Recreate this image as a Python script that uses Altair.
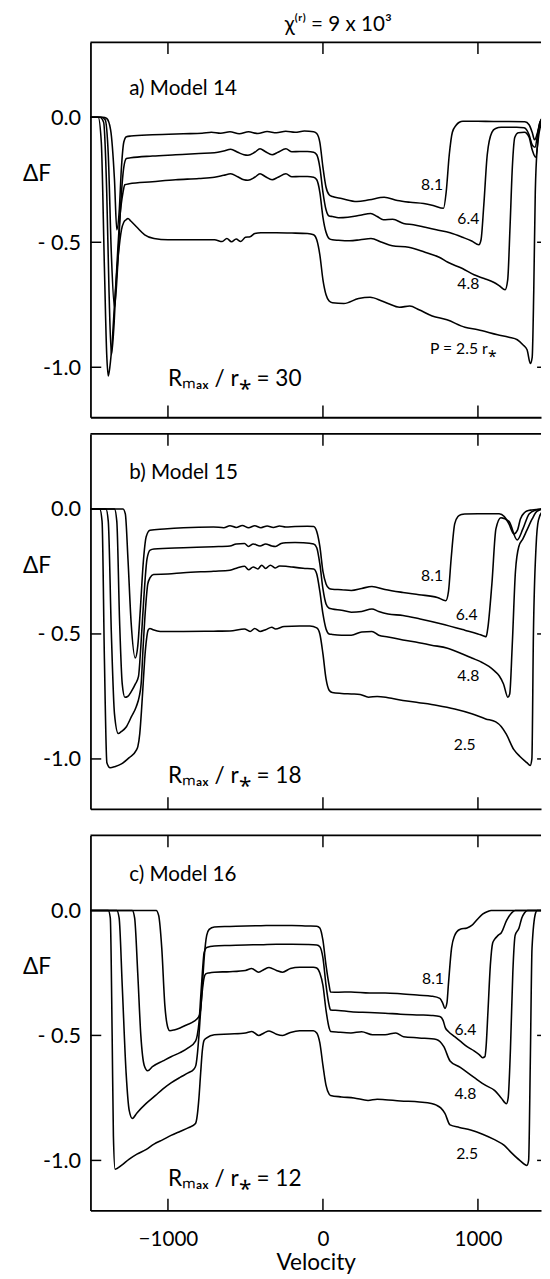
import altair as alt
import pandas as pd

# ---------------- data ----------------
X_DOMAIN = [-1500, 1407]
Y_DOMAIN = [-1.2, 0.3]
X_TICKS = [-1000, 0, 1000]
X_TICK_LABELS = ["−1000", "0", "1000"]
Y_TICKS = [0.0, -0.5, -1.0]
Y_TICK_LABELS = ["0.0", "- 0.5", "-1.0"]
INNER_Y_TICKS = [-0.5, -1.0]
P_VALUES = ["8.1", "6.4", "4.8", "2.5"]

# Panel a) Model 14  (velocity, ΔF)
A81 = [(-1500,0),(-1420,0),(-1395,-0.005),(-1370,-0.05),(-1345,-0.25),(-1330,-0.45),(-1315,-0.38),(-1300,-0.2),(-1285,-0.1),(-1268,-0.078),(-1240,-0.075),(-1100,-0.07),(-900,-0.066),(-780,-0.064),(-720,-0.06),(-660,-0.064),(-600,-0.058),(-540,-0.066),(-480,-0.058),(-420,-0.065),(-360,-0.057),(-300,-0.062),(-240,-0.056),(-180,-0.06),(-120,-0.055),(-60,-0.058),(-40,-0.065),(-20,-0.1),(0,-0.2),(20,-0.28),(40,-0.31),(61,-0.317),(120,-0.325),(219,-0.337),(300,-0.33),(395,-0.32),(480,-0.333),(563,-0.34),(650,-0.345),(711,-0.353),(778,-0.364),(795,-0.3),(815,-0.15),(835,-0.06),(859,-0.032),(880,-0.02),(903,-0.016),(1000,-0.016),(1100,-0.017),(1200,-0.017),(1303,-0.018),(1330,-0.03),(1350,-0.06),(1365,-0.09),(1385,-0.06),(1400,-0.02),(1420,0)]
A64 = [(-1500,0),(-1430,0),(-1405,-0.01),(-1385,-0.15),(-1365,-0.55),(-1345,-0.76),(-1325,-0.6),(-1305,-0.35),(-1285,-0.2),(-1268,-0.165),(-1240,-0.162),(-1100,-0.155),(-950,-0.15),(-800,-0.145),(-700,-0.142),(-640,-0.135),(-595,-0.128),(-550,-0.14),(-510,-0.15),(-484,-0.152),(-440,-0.14),(-406,-0.126),(-370,-0.138),(-328,-0.15),(-290,-0.14),(-239,-0.126),(-200,-0.138),(-150,-0.137),(-100,-0.137),(-60,-0.14),(-40,-0.15),(-20,-0.2),(0,-0.3),(20,-0.37),(40,-0.395),(61,-0.397),(100,-0.402),(161,-0.40),(240,-0.392),(308,-0.385),(350,-0.397),(390,-0.41),(450,-0.408),(520,-0.425),(584,-0.43),(660,-0.44),(732,-0.45),(820,-0.462),(901,-0.48),(960,-0.495),(1006,-0.51),(1020,-0.49),(1038,-0.35),(1060,-0.15),(1090,-0.06),(1114,-0.045),(1150,-0.04),(1250,-0.04),(1297,-0.042),(1330,-0.07),(1350,-0.11),(1368,-0.12),(1390,-0.05),(1410,-0.01),(1420,0)]
A48 = [(-1500,0),(-1440,0),(-1415,-0.02),(-1395,-0.3),(-1380,-0.7),(-1365,-0.95),(-1350,-0.85),(-1330,-0.6),(-1310,-0.4),(-1290,-0.3),(-1278,-0.27),(-1250,-0.266),(-1100,-0.258),(-950,-0.25),(-800,-0.245),(-700,-0.24),(-640,-0.232),(-595,-0.226),(-550,-0.238),(-510,-0.25),(-484,-0.252),(-440,-0.24),(-406,-0.226),(-370,-0.238),(-328,-0.25),(-290,-0.24),(-239,-0.226),(-200,-0.238),(-150,-0.237),(-100,-0.237),(-60,-0.24),(-40,-0.25),(-20,-0.3),(0,-0.4),(20,-0.46),(40,-0.485),(61,-0.49),(100,-0.492),(173,-0.494),(240,-0.49),(310,-0.485),(380,-0.5),(447,-0.514),(553,-0.52),(658,-0.54),(750,-0.56),(806,-0.58),(900,-0.605),(975,-0.63),(1040,-0.645),(1101,-0.66),(1140,-0.675),(1175,-0.69),(1192,-0.65),(1207,-0.44),(1222,-0.2),(1238,-0.08),(1260,-0.062),(1300,-0.06),(1330,-0.08),(1350,-0.13),(1372,-0.16),(1395,-0.06),(1420,0)]
A25 = [(-1500,0),(-1450,0),(-1430,-0.1),(-1410,-0.6),(-1395,-0.95),(-1385,-1.035),(-1375,-1.0),(-1360,-0.9),(-1340,-0.7),(-1320,-0.55),(-1300,-0.45),(-1285,-0.42),(-1270,-0.41),(-1258,-0.405),(-1240,-0.415),(-1200,-0.44),(-1150,-0.47),(-1090,-0.485),(-1000,-0.49),(-800,-0.49),(-700,-0.49),(-650,-0.497),(-620,-0.485),(-590,-0.498),(-560,-0.487),(-530,-0.497),(-500,-0.48),(-470,-0.478),(-440,-0.465),(-400,-0.462),(-300,-0.462),(-200,-0.463),(-100,-0.465),(-60,-0.47),(-40,-0.49),(-20,-0.55),(0,-0.65),(20,-0.71),(40,-0.735),(61,-0.742),(135,-0.745),(230,-0.725),(304,-0.72),(380,-0.735),(420,-0.745),(494,-0.76),(560,-0.755),(620,-0.77),(705,-0.795),(800,-0.81),(916,-0.84),(1000,-0.85),(1127,-0.87),(1200,-0.88),(1254,-0.89),(1290,-0.91),(1317,-0.93),(1338,-0.985),(1350,-0.96),(1360,-0.7),(1370,-0.3),(1385,-0.1),(1400,-0.02),(1420,0)]

# Panel b) Model 15
B81 = [(-1500,0),(-1290,0),(-1275,-0.02),(-1258,-0.2),(-1238,-0.45),(-1211,-0.596),(-1195,-0.55),(-1178,-0.4),(-1160,-0.22),(-1140,-0.11),(-1116,-0.085),(-1025,-0.08),(-900,-0.075),(-706,-0.072),(-640,-0.075),(-600,-0.067),(-560,-0.074),(-520,-0.066),(-480,-0.075),(-440,-0.067),(-400,-0.075),(-360,-0.068),(-320,-0.074),(-280,-0.068),(-240,-0.072),(-180,-0.07),(-100,-0.069),(-60,-0.07),(-40,-0.09),(-20,-0.15),(0,-0.25),(20,-0.3),(40,-0.318),(60,-0.321),(120,-0.323),(183,-0.326),(250,-0.318),(316,-0.31),(400,-0.322),(516,-0.334),(620,-0.343),(738,-0.354),(793,-0.367),(810,-0.33),(827,-0.2),(850,-0.06),(871,-0.03),(894,-0.022),(915,-0.02),(1000,-0.019),(1137,-0.019),(1170,-0.03),(1200,-0.06),(1232,-0.1),(1255,-0.085),(1274,-0.04),(1300,-0.015),(1316,-0.008),(1348,-0.004),(1420,0)]
B64 = [(-1500,0),(-1345,0),(-1330,-0.05),(-1312,-0.45),(-1295,-0.7),(-1278,-0.753),(-1260,-0.75),(-1236,-0.73),(-1210,-0.70),(-1190,-0.67),(-1175,-0.55),(-1155,-0.35),(-1135,-0.2),(-1115,-0.165),(-1090,-0.16),(-900,-0.155),(-706,-0.151),(-600,-0.148),(-560,-0.14),(-506,-0.138),(-480,-0.15),(-450,-0.14),(-406,-0.148),(-370,-0.14),(-330,-0.148),(-306,-0.15),(-270,-0.138),(-239,-0.135),(-180,-0.134),(-128,-0.135),(-60,-0.14),(-40,-0.155),(-20,-0.22),(0,-0.32),(20,-0.38),(40,-0.397),(60,-0.4),(120,-0.405),(183,-0.413),(250,-0.41),(316,-0.40),(360,-0.41),(420,-0.42),(516,-0.426),(627,-0.44),(760,-0.459),(915,-0.485),(1000,-0.5),(1037,-0.508),(1053,-0.511),(1063,-0.48),(1090,-0.3),(1116,-0.08),(1148,-0.035),(1200,-0.05),(1253,-0.124),(1290,-0.08),(1330,-0.02),(1369,-0.005),(1420,0)]
B48 = [(-1500,0),(-1400,0),(-1385,-0.05),(-1365,-0.5),(-1345,-0.82),(-1321,-0.898),(-1300,-0.89),(-1268,-0.871),(-1235,-0.83),(-1204,-0.79),(-1185,-0.75),(-1173,-0.70),(-1160,-0.55),(-1145,-0.4),(-1130,-0.3),(-1115,-0.275),(-1093,-0.262),(-1000,-0.26),(-900,-0.255),(-706,-0.249),(-600,-0.245),(-550,-0.235),(-506,-0.229),(-480,-0.243),(-450,-0.232),(-420,-0.24),(-395,-0.225),(-370,-0.238),(-339,-0.225),(-306,-0.236),(-280,-0.228),(-239,-0.229),(-200,-0.232),(-128,-0.237),(-60,-0.24),(-40,-0.26),(-20,-0.33),(0,-0.42),(20,-0.48),(40,-0.5),(60,-0.502),(120,-0.505),(183,-0.505),(250,-0.492),(316,-0.49),(360,-0.505),(420,-0.512),(516,-0.524),(620,-0.535),(700,-0.545),(804,-0.557),(900,-0.58),(960,-0.596),(1030,-0.615),(1071,-0.63),(1110,-0.65),(1138,-0.668),(1165,-0.7),(1193,-0.753),(1205,-0.74),(1221,-0.55),(1242,-0.25),(1264,-0.15),(1290,-0.12),(1316,-0.085),(1350,-0.04),(1380,-0.01),(1420,0)]
B25 = [(-1500,0),(-1440,0),(-1425,-0.05),(-1410,-0.6),(-1394,-1.015),(-1373,-1.035),(-1340,-1.03),(-1300,-1.02),(-1250,-0.995),(-1204,-0.965),(-1194,-0.95),(-1182,-0.9),(-1170,-0.8),(-1160,-0.7),(-1150,-0.6),(-1138,-0.52),(-1128,-0.485),(-1116,-0.478),(-1100,-0.482),(-1050,-0.49),(-900,-0.49),(-706,-0.489),(-600,-0.488),(-506,-0.48),(-470,-0.49),(-440,-0.478),(-406,-0.49),(-370,-0.483),(-330,-0.473),(-306,-0.48),(-250,-0.47),(-150,-0.468),(-84,-0.468),(-40,-0.476),(-20,-0.5),(0,-0.58),(20,-0.68),(40,-0.725),(60,-0.734),(120,-0.738),(183,-0.74),(240,-0.742),(294,-0.753),(350,-0.75),(420,-0.755),(516,-0.766),(620,-0.775),(738,-0.786),(850,-0.80),(960,-0.819),(1050,-0.84),(1115,-0.852),(1150,-0.87),(1182,-0.9),(1232,-0.963),(1271,-0.99),(1316,-1.015),(1337,-1.026),(1348,-1.0),(1358,-0.5),(1375,-0.15),(1390,-0.046),(1420,-0.005)]

# Panel c) Model 16
C81 = [(-1500,0),(-1076,0),(-1060,-0.02),(-1040,-0.15),(-1020,-0.38),(-1000,-0.47),(-988,-0.481),(-960,-0.478),(-922,-0.47),(-880,-0.458),(-833,-0.444),(-800,-0.424),(-790,-0.4),(-778,-0.3),(-765,-0.18),(-750,-0.1),(-734,-0.076),(-701,-0.066),(-600,-0.064),(-500,-0.062),(-400,-0.061),(-300,-0.06),(-200,-0.06),(-100,-0.062),(-40,-0.063),(-20,-0.07),(0,-0.12),(20,-0.22),(40,-0.3),(49,-0.326),(100,-0.327),(181,-0.326),(300,-0.33),(401,-0.33),(500,-0.333),(622,-0.339),(700,-0.343),(754,-0.352),(772,-0.37),(787,-0.392),(800,-0.37),(809,-0.3),(830,-0.15),(850,-0.1),(864,-0.085),(886,-0.075),(930,-0.07),(960,-0.06),(997,-0.035),(1030,-0.015),(1063,-0.004),(1085,0),(1420,0)]
C64 = [(-1500,0),(-1230,0),(-1215,-0.03),(-1195,-0.25),(-1175,-0.5),(-1153,-0.62),(-1131,-0.641),(-1100,-0.625),(-1032,-0.602),(-980,-0.585),(-922,-0.569),(-870,-0.55),(-822,-0.523),(-811,-0.5),(-800,-0.45),(-789,-0.35),(-778,-0.25),(-767,-0.17),(-750,-0.148),(-701,-0.142),(-600,-0.14),(-500,-0.138),(-400,-0.137),(-300,-0.135),(-200,-0.135),(-100,-0.136),(-40,-0.138),(-20,-0.145),(0,-0.19),(20,-0.3),(40,-0.38),(49,-0.398),(100,-0.4),(181,-0.405),(300,-0.408),(401,-0.411),(500,-0.415),(622,-0.418),(700,-0.42),(754,-0.424),(775,-0.44),(790,-0.47),(809,-0.484),(850,-0.505),(886,-0.523),(930,-0.545),(975,-0.562),(1010,-0.578),(1030,-0.589),(1045,-0.585),(1052,-0.55),(1065,-0.4),(1080,-0.22),(1095,-0.13),(1107,-0.116),(1130,-0.1),(1151,-0.089),(1185,-0.04),(1217,-0.01),(1240,0),(1420,0)]
C48 = [(-1500,0),(-1330,0),(-1315,-0.03),(-1295,-0.3),(-1270,-0.65),(-1250,-0.8),(-1230,-0.832),(-1200,-0.81),(-1142,-0.773),(-1080,-0.74),(-1032,-0.714),(-980,-0.69),(-922,-0.668),(-870,-0.65),(-833,-0.635),(-820,-0.62),(-811,-0.58),(-800,-0.5),(-789,-0.4),(-778,-0.32),(-767,-0.27),(-756,-0.254),(-735,-0.25),(-701,-0.247),(-600,-0.245),(-500,-0.24),(-460,-0.232),(-415,-0.247),(-380,-0.236),(-348,-0.228),(-300,-0.24),(-260,-0.247),(-210,-0.232),(-150,-0.227),(-62,-0.227),(-40,-0.23),(-20,-0.25),(0,-0.3),(20,-0.4),(40,-0.47),(49,-0.484),(100,-0.487),(181,-0.49),(250,-0.485),(320,-0.497),(401,-0.497),(470,-0.49),(520,-0.505),(620,-0.51),(732,-0.516),(780,-0.545),(820,-0.602),(886,-0.628),(975,-0.668),(1050,-0.7),(1107,-0.72),(1150,-0.75),(1184,-0.773),(1195,-0.75),(1210,-0.55),(1225,-0.25),(1240,-0.1),(1265,-0.07),(1283,-0.03),(1300,-0.01),(1320,0),(1420,0)]
C25 = [(-1500,0),(-1385,0),(-1372,-0.03),(-1360,-0.5),(-1352,-0.9),(-1341,-1.035),(-1300,-1.02),(-1252,-0.996),(-1200,-0.975),(-1142,-0.957),(-1090,-0.935),(-1032,-0.917),(-980,-0.9),(-922,-0.884),(-870,-0.87),(-822,-0.852),(-811,-0.82),(-800,-0.75),(-789,-0.65),(-778,-0.56),(-767,-0.52),(-750,-0.51),(-701,-0.497),(-600,-0.494),(-500,-0.49),(-459,-0.484),(-415,-0.5),(-380,-0.49),(-348,-0.482),(-300,-0.495),(-260,-0.5),(-210,-0.488),(-150,-0.481),(-62,-0.481),(-40,-0.49),(-20,-0.53),(0,-0.62),(20,-0.7),(40,-0.735),(49,-0.74),(120,-0.746),(200,-0.75),(291,-0.76),(350,-0.755),(401,-0.757),(500,-0.762),(622,-0.766),(700,-0.772),(732,-0.779),(760,-0.79),(787,-0.812),(820,-0.858),(880,-0.868),(953,-0.878),(1030,-0.895),(1107,-0.917),(1170,-0.94),(1217,-0.97),(1270,-1.0),(1316,-1.02),(1327,-1.0),(1338,-0.6),(1349,-0.15),(1372,-0.01),(1382,0),(1420,0)]

PANEL_TEXT = ["a)  Model 14", "b)  Model 15", "c)  Model 16"]
PANEL_TEXT_POS = [(-1250, 0.114), (-1250, 0.144), (-1250, 0.14)]
RMAX_TEXT = ["Rₘₐₓ / r⁎ = 30", "Rₘₐₓ / r⁎ = 18", "Rₘₐₓ / r⁎ = 12"]
RMAX_POS = [(-1000, -1.048), (-1000, -1.068), (-1000, -1.075)]
CURVE_TEXT = [["8.1", "6.4", "4.8", "P = 2.5 r⁎"], ["8.1", "6.4", "4.8", "2.5"], ["8.1", "6.4", "4.8", "2.5"]]
CURVE_TEXT_POS = [
    [(704, -0.27), (938, -0.408), (938, -0.669), (906, -0.928)],
    [(704, -0.269), (927, -0.426), (938, -0.668), (915, -0.943)],
    [(710, -0.273), (919, -0.477), (919, -0.733), (930, -0.976)],
]
TITLE = "χ⁽ʳ⁾ = 9 x 10³"

# ---------------- styling ----------------
FONT = "Lato"
W, H = 459, 382
INK = "black"
FRAME_W = 1.8

xs = alt.Scale(domain=X_DOMAIN, nice=False, zero=False)
ys = alt.Scale(domain=Y_DOMAIN, nice=False, zero=False)

x_label_expr = " : ".join(f"datum.value == {v} ? '{t}'" for v, t in zip(X_TICKS, X_TICK_LABELS)) + " : ''"
y_label_expr = " : ".join(f"datum.value == {v} ? '{t}'" for v, t in zip(Y_TICKS, Y_TICK_LABELS)) + " : ''"


def panel(curves, idx, bottom_labels, title=None):
    frames = []
    for p, pts in zip(P_VALUES, curves):
        d = pd.DataFrame(pts, columns=["v", "f"])
        d["p"] = p
        frames.append(d)
    df = pd.concat(frames, ignore_index=True)

    if bottom_labels:
        xaxis = alt.Axis(values=X_TICKS, labelExpr=x_label_expr, ticks=False, grid=False,
                         labelFontSize=21, labelPadding=19, labelFont=FONT, labelColor=INK,
                         title="Velocity", titleFontSize=23, titleFont=FONT, titleFontWeight="normal",
                         titleColor=INK, titlePadding=2, domainColor=INK, domainWidth=FRAME_W)
    else:
        xaxis = alt.Axis(values=X_TICKS, labels=False, ticks=False, grid=False, title=None,
                         domainColor=INK, domainWidth=FRAME_W)
    yaxis = alt.Axis(values=Y_TICKS, labelExpr=y_label_expr, ticks=False, grid=False,
                     labelFontSize=22, labelPadding=10, labelFont=FONT, labelColor=INK,
                     title="ΔF", titleAngle=0, titleFontSize=23, titleFont=FONT,
                     titleFontWeight="normal", titleColor=INK, titleX=-55, titleY=134,
                     titleAlign="center", titleBaseline="middle",
                     domainColor=INK, domainWidth=FRAME_W)

    X = lambda f="v:Q": alt.X(f, scale=xs, axis=xaxis)
    Y = lambda f="f:Q": alt.Y(f, scale=ys, axis=yaxis)

    lines = alt.Chart(df).mark_line(color=INK, strokeWidth=1.6, clip=True,
                                    interpolate="monotone").encode(
        x=X(), y=Y(), detail="p:N")

    frame_df = pd.DataFrame({"v": [X_DOMAIN[0]], "v2": [X_DOMAIN[1]], "f": [Y_DOMAIN[1]]})
    top_rule = alt.Chart(frame_df).mark_rule(color=INK, strokeWidth=FRAME_W).encode(
        x=X(), x2="v2:Q", y=Y())

    xt = pd.DataFrame({"v": X_TICKS})
    top_ticks = alt.Chart(xt).mark_rule(color=INK, strokeWidth=1.5).encode(
        x=X(), y=alt.value(0), y2=alt.value(12))
    bot_ticks = alt.Chart(xt).mark_rule(color=INK, strokeWidth=1.5).encode(
        x=X(), y=alt.value(H), y2=alt.value(H - 12))
    yt = pd.DataFrame({"f": INNER_Y_TICKS})
    left_ticks = alt.Chart(yt).mark_rule(color=INK, strokeWidth=1.5).encode(
        y=Y(), x=alt.value(0), x2=alt.value(11))
    right_ticks = alt.Chart(yt).mark_rule(color=INK, strokeWidth=1.5).encode(
        y=Y(), x=alt.value(W - 4), x2=alt.value(W))

    name_df = pd.DataFrame({"v": [PANEL_TEXT_POS[idx][0]], "f": [PANEL_TEXT_POS[idx][1]],
                            "t": [PANEL_TEXT[idx]]})
    name = alt.Chart(name_df).mark_text(align="left", baseline="middle", fontSize=21,
                                        font=FONT, color=INK).encode(
        x=X(), y=Y(), text="t:N")

    rmax_df = pd.DataFrame({"v": [RMAX_POS[idx][0]], "f": [RMAX_POS[idx][1]], "t": [RMAX_TEXT[idx]]})
    rmax = alt.Chart(rmax_df).mark_text(align="left", baseline="middle", fontSize=23,
                                        font=FONT, color=INK).encode(
        x=X(), y=Y(), text="t:N")

    lab_df = pd.DataFrame({"v": [p[0] for p in CURVE_TEXT_POS[idx]],
                           "f": [p[1] for p in CURVE_TEXT_POS[idx]],
                           "t": CURVE_TEXT[idx]})
    labs = alt.Chart(lab_df).mark_text(align="center", baseline="middle", fontSize=16,
                                       font=FONT, color=INK).encode(
        x=X(), y=Y(), text="t:N")

    layer = alt.layer(lines, top_rule, top_ticks, bot_ticks, left_ticks, right_ticks,
                      name, rmax, labs).properties(width=W, height=H)
    if title is not None:
        layer = layer.properties(title=title)
    return layer


title = alt.TitleParams(TITLE, fontSize=21, fontWeight="normal", font=FONT, color=INK,
                        anchor="middle", frame="group", dx=23, offset=7)

pa = panel([A81, A64, A48, A25], 0, False, title)
pb = panel([B81, B64, B48, B25], 1, False)
pc = panel([C81, C64, C48, C25], 2, True)

top_two = alt.vconcat(pa, pb, spacing=15)
chart = alt.vconcat(top_two, pc, spacing=25).properties(
    padding={"left": 14, "top": -6, "right": 0, "bottom": -4},
    background="white",
).configure_view(stroke=None)

chart.save("out.html", embed_options={"renderer": "svg", "actions": False})
